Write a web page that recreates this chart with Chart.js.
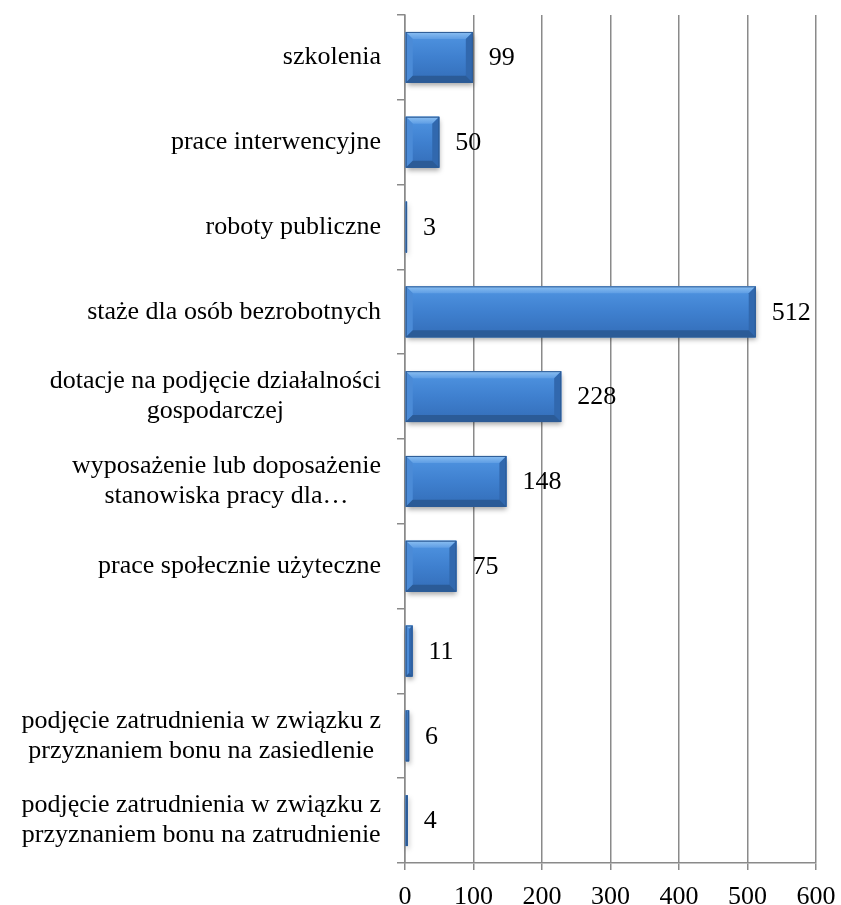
<!DOCTYPE html>
<html lang="pl">
<head>
    <meta charset="UTF-8">
    <title>Formy aktywizacji</title>
    <script src="https://cdn.jsdelivr.net/npm/chart.js@4.4.1/dist/chart.umd.min.js"></script>
    <style>
        body {
            margin: 0;
            background: #fff;
        }
        .chart-container {
            width: 841px;
            height: 905px;
        }
    </style>
</head>
<body>
    <div class="chart-container">
        <canvas id="barChart"></canvas>
    </div>

    <script>
        const categories = [
            'szkolenia',
            'prace interwencyjne',
            'roboty publiczne',
            'staże dla osób bezrobotnych',
            ['dotacje na podjęcie działalności', 'gospodarczej'],
            ['wyposażenie lub doposażenie', 'stanowiska pracy dla…'],
            'prace społecznie użyteczne',
            '',
            ['podjęcie zatrudnienia w związku z', 'przyznaniem bonu na zasiedlenie'],
            ['podjęcie zatrudnienia w związku z', 'przyznaniem bonu na zatrudnienie']
        ];
        const values = [99, 50, 3, 512, 228, 148, 75, 11, 6, 4];
        const xTicks = [0, 100, 200, 300, 400, 500, 600];

        const FONT = "'Liberation Serif', 'Times New Roman', serif";
        const GRID = '#8a8a8a';

        function barRect(bar) {
            const p = bar.getProps(['x', 'y', 'base', 'height'], true);
            return {
                left: Math.min(p.base, p.x),
                right: Math.max(p.base, p.x),
                top: p.y - p.height / 2,
                bottom: p.y + p.height / 2
            };
        }

        function poly(ctx, pts, fill) {
            ctx.beginPath();
            ctx.moveTo(pts[0][0], pts[0][1]);
            for (let i = 1; i < pts.length; i++) ctx.lineTo(pts[i][0], pts[i][1]);
            ctx.closePath();
            ctx.fillStyle = fill;
            ctx.fill();
        }

        // bevelled bars in the old office look, plus value labels
        const bevelPlugin = {
            id: 'bevel',
            beforeDatasetsDraw(chart) {
                const ctx = chart.ctx;
                chart.getDatasetMeta(0).data.forEach(bar => {
                    const r = barRect(bar);
                    ctx.save();
                    ctx.shadowColor = 'rgba(0,0,0,0.35)';
                    ctx.shadowBlur = 5;
                    ctx.shadowOffsetX = 1;
                    ctx.shadowOffsetY = 3;
                    ctx.fillStyle = '#2d5f9e';
                    ctx.fillRect(r.left, r.top, r.right - r.left, r.bottom - r.top);
                    ctx.restore();
                });
            },
            afterDatasetsDraw(chart) {
                const ctx = chart.ctx;
                chart.getDatasetMeta(0).data.forEach((bar, i) => {
                    const { left, right, top, bottom } = barRect(bar);
                    const w = right - left, h = bottom - top;
                    const b = Math.min(7, w / 2, h / 2);
                    ctx.save();
                    const face = ctx.createLinearGradient(0, top, 0, bottom);
                    face.addColorStop(0, '#5095e2');
                    face.addColorStop(0.5, '#3f80cf');
                    face.addColorStop(1, '#336db8');
                    ctx.fillStyle = face;
                    ctx.fillRect(left, top, w, h);

                    const topG = ctx.createLinearGradient(0, top, 0, top + b);
                    topG.addColorStop(0, '#8cc0f2');
                    topG.addColorStop(1, '#5e9de4');
                    poly(ctx, [[left, top], [right, top], [right - b, top + b], [left + b, top + b]], topG);
                    poly(ctx, [[left, top], [left + b, top + b], [left + b, bottom - b], [left, bottom]], '#4b8bd7');
                    poly(ctx, [[right, top], [right, bottom], [right - b, bottom - b], [right - b, top + b]], '#3168ae');
                    poly(ctx, [[left, bottom], [left + b, bottom - b], [right - b, bottom - b], [right, bottom]], '#2b5b97');

                    ctx.strokeStyle = '#2d5b95';
                    ctx.lineWidth = 1;
                    ctx.strokeRect(left + 0.5, top + 0.5, w - 1, h - 1);

                    ctx.fillStyle = '#000';
                    ctx.font = '26px ' + FONT;
                    ctx.textAlign = 'left';
                    ctx.textBaseline = 'middle';
                    ctx.fillText(String(values[i]), right + 16, (top + bottom) / 2 + 1);
                    ctx.restore();
                });
            },
            afterDraw(chart) {
                // category labels: block right aligned, lines centred within it
                const ctx = chart.ctx;
                const yScale = chart.scales.y;
                const rightEdge = yScale.right - 24;
                ctx.save();
                ctx.fillStyle = '#000';
                ctx.font = '26px ' + FONT;
                ctx.textAlign = 'center';
                ctx.textBaseline = 'middle';
                categories.forEach((lab, i) => {
                    const lines = Array.isArray(lab) ? lab : [lab];
                    if (!lines[0]) return;
                    const maxW = Math.max(...lines.map(l => ctx.measureText(l).width));
                    const cx = rightEdge - maxW / 2;
                    const cy = yScale.getPixelForTick(i);
                    const lh = 30;
                    lines.forEach((l, j) => {
                        ctx.fillText(l, cx, cy + (j - (lines.length - 1) / 2) * lh);
                    });
                });
                ctx.restore();
            }
        };

        new Chart(document.getElementById('barChart'), {
            type: 'bar',
            data: {
                labels: categories,
                datasets: [{
                    data: values,
                    backgroundColor: '#3c7dcc',
                    barPercentage: 0.6,
                    categoryPercentage: 1.0
                }]
            },
            options: {
                indexAxis: 'y',
                responsive: true,
                maintainAspectRatio: false,
                animation: false,
                layout: {
                    padding: { top: 15, right: 25, left: 0, bottom: 0 }
                },
                plugins: {
                    legend: { display: false },
                    tooltip: { enabled: false }
                },
                scales: {
                    x: {
                        min: 0,
                        max: 600,
                        afterBuildTicks: s => { s.ticks = xTicks.map(v => ({ value: v })); },
                        afterFit: s => {
                            s.height = 42;
                            s.paddingLeft = 0;
                            s.paddingRight = 0;
                        },
                        grid: {
                            color: GRID,
                            lineWidth: 1.5,
                            tickLength: 7
                        },
                        border: { color: GRID, width: 1.5 },
                        ticks: {
                            color: '#000',
                            font: { family: FONT, size: 26 },
                            padding: 12,
                            maxRotation: 0
                        }
                    },
                    y: {
                        afterFit: s => {
                            s.width = 405;
                            s.paddingTop = 0;
                            s.paddingBottom = 0;
                        },
                        grid: {
                            drawOnChartArea: false,
                            color: GRID,
                            lineWidth: 1.5,
                            tickLength: 8
                        },
                        border: { color: GRID, width: 1.5 },
                        ticks: {
                            color: 'transparent',
                            autoSkip: false,
                            font: { family: FONT, size: 26 }
                        }
                    }
                }
            },
            plugins: [bevelPlugin]
        });
    </script>
</body>
</html>
